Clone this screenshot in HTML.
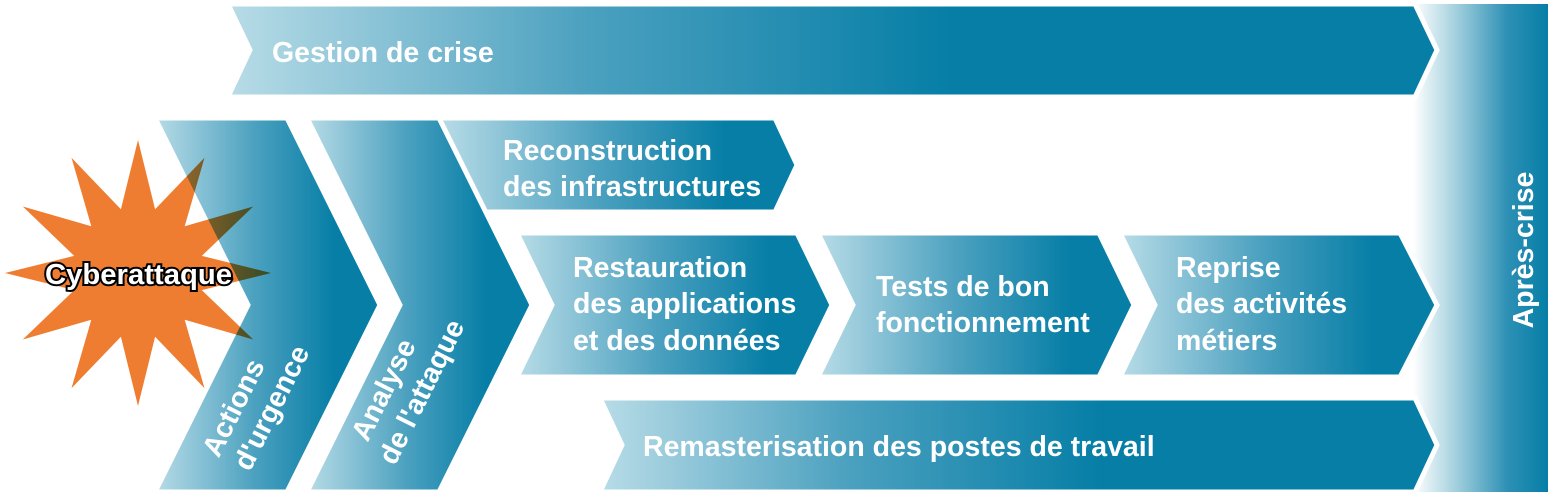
<!DOCTYPE html>
<html><head><meta charset="utf-8"><style>
html,body{margin:0;padding:0;background:#fff;}
svg{display:block;}
text{font-family:"Liberation Sans",sans-serif;font-weight:bold;fill:#fff;}
</style></head><body>
<svg width="1552" height="500" viewBox="0 0 1552 500" xmlns="http://www.w3.org/2000/svg">
<defs>
<linearGradient id="g" x1="0" y1="0" x2="1" y2="0">
<stop offset="0" stop-color="#b8dce7"/><stop offset="0.45" stop-color="#4aa0bf"/><stop offset="0.8" stop-color="#067ea6"/><stop offset="1" stop-color="#067ea6"/>
</linearGradient>
<linearGradient id="gl" x1="0" y1="0" x2="1" y2="0">
<stop offset="0" stop-color="#b8dce7"/><stop offset="0.3" stop-color="#4aa0bf"/><stop offset="0.6" stop-color="#067ea6"/><stop offset="1" stop-color="#067ea6"/>
</linearGradient>
<linearGradient id="ga" x1="0" y1="0" x2="1" y2="0">
<stop offset="0" stop-color="#ffffff"/><stop offset="0.3" stop-color="#a8d3e0"/><stop offset="0.7" stop-color="#2d90b5"/><stop offset="1" stop-color="#067ea6"/>
</linearGradient>
</defs>
<rect x="1413" y="4" width="135" height="488" fill="url(#ga)"/>
<g stroke="#fff" stroke-width="5" stroke-linejoin="miter">
<polygon points="228,4 1415,4 1437,50 1415,97 228,97 250,50" fill="url(#gl)"/>
<polygon points="440,118 775,118 797,165 775,212 440,212" fill="url(#g)"/>
<polygon points="517,233 797,233 832,305 797,377 517,377 552,305" fill="url(#g)"/>
<polygon points="818,233 1099,233 1134,305 1099,377 818,377 853,305" fill="url(#g)"/>
<polygon points="1120,233 1400,233 1437,305 1400,377 1120,377 1155,305" fill="url(#g)"/>
<polygon points="600,398 1415,398 1437,445 1415,492 600,492 622,445" fill="url(#gl)"/>
<polygon points="155,118 287,118 380,305 287,492 155,492 248,305" fill="url(#g)"/>
<polygon points="307,118 439,118 532,305 439,492 307,492 400,305" fill="url(#g)"/>
</g>
<polygon id="star" fill="#ee7d31" style="mix-blend-mode:multiply"/>
<g font-size="28.5">
<text x="503" y="160">Reconstruction</text>
<text x="272" y="62">Gestion de crise</text>
<text x="503" y="196">des infrastructures</text>
<text x="573" y="277">Restauration</text>
<text x="573" y="313">des applications</text>
<text x="573" y="350">et des données</text>
<text x="876" y="296">Tests de bon</text>
<text x="876" y="332">fonctionnement</text>
<text x="1176" y="277">Reprise</text>
<text x="1176" y="313">des activités</text>
<text x="1176" y="350">métiers</text>
<text x="643" y="456">Remasterisation des postes de travail</text>
<text transform="translate(1533,250) rotate(-90)" text-anchor="middle">Après-crise</text>
<text transform="translate(242,412) rotate(-63.5)" text-anchor="middle">Actions</text>
<text transform="translate(280,412) rotate(-63.5)" text-anchor="middle">d'urgence</text>
<text transform="translate(392,394) rotate(-63.5)" text-anchor="middle">Analyse</text>
<text transform="translate(430,396) rotate(-63.5)" text-anchor="middle">de l'attaque</text>
<text x="45" y="284" font-size="29" textLength="187" lengthAdjust="spacingAndGlyphs" stroke="#000" stroke-width="4" paint-order="stroke">Cyberattaque</text>
</g>
</svg>
<script>
var cx=138,cy=273,R=133,r=66,p=[];
for(var i=0;i<24;i++){var a=i*15*Math.PI/180,rr=i%2?r:R;p.push((cx+rr*Math.cos(a)).toFixed(1)+","+(cy+rr*Math.sin(a)).toFixed(1));}
document.getElementById("star").setAttribute("points",p.join(" "));
</script>
</body></html>
